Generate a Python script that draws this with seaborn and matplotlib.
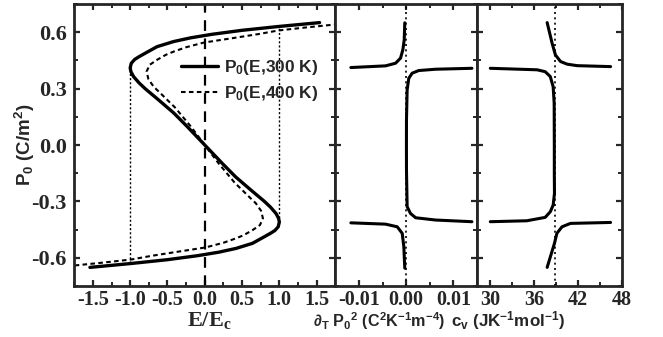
import numpy as np
import pandas as pd
import matplotlib
matplotlib.use("Agg")
import matplotlib.pyplot as plt
import seaborn as sns

# ---------------- data ----------------
# P0(E, 300 K): polarisation (C/m^2) and reduced field E/Ec
p300 = [-0.651, -0.63, -0.61, -0.589, -0.57, -0.55, -0.523, -0.49, -0.47, -0.455,
        -0.435, -0.41, -0.39, -0.364, -0.33, -0.30, -0.24, -0.17, -0.10, 0.0,
        0.10, 0.17, 0.24, 0.30, 0.33, 0.364, 0.39, 0.41, 0.435, 0.455, 0.47,
        0.49, 0.523, 0.55, 0.57, 0.589, 0.61, 0.63, 0.651]
e300 = [-1.54, -0.98, -0.50, -0.10, 0.19, 0.42, 0.64, 0.79, 0.88, 0.94,
        0.985, 1.00, 0.99, 0.955, 0.88, 0.80, 0.62, 0.415, 0.24, 0.0,
        -0.24, -0.415, -0.62, -0.80, -0.88, -0.955, -0.99, -1.00, -0.985, -0.94, -0.88,
        -0.79, -0.64, -0.42, -0.19, 0.10, 0.50, 0.98, 1.54]

# P0(E, 400 K)
p400 = [-0.645, -0.639, -0.625, -0.609, -0.59, -0.57, -0.545, -0.52, -0.497, -0.48,
        -0.453, -0.426, -0.39, -0.35, -0.31, -0.27, -0.20, -0.10, 0.0,
        0.10, 0.20, 0.27, 0.31, 0.35, 0.39, 0.426, 0.453, 0.48, 0.497,
        0.52, 0.545, 0.57, 0.59, 0.609, 0.625, 0.639, 0.645]
e400 = [-1.85, -1.70, -1.35, -0.984, -0.72, -0.40, 0.01, 0.25, 0.416, 0.52,
        0.64, 0.74, 0.78, 0.755, 0.685, 0.58, 0.40, 0.19, 0.0,
        -0.19, -0.40, -0.58, -0.685, -0.755, -0.78, -0.74, -0.64, -0.52, -0.416,
        -0.25, -0.01, 0.40, 0.72, 0.984, 1.35, 1.70, 1.85]

# thin dotted guide lines at the coercive fields
guide_e = [-1.0, 1.0]
guide_lo = [-0.625, -0.41]
guide_hi = [0.41, 0.625]

# dT P0^2 (C^2 K^-1 m^-4) versus P0, three branches
d_up_x = [-0.0117, -0.00436, -0.00225, -0.0012, -0.00071, -0.00042, -0.0003]
d_up_p = [0.412, 0.421, 0.435, 0.462, 0.506, 0.559, 0.650]
d_mid_x = [0.0139, 0.00617, 0.00265, 0.00126, 0.00055, 0.0002, 0.00006, 0.00005,
           0.00006, 0.0002, 0.0009, 0.002, 0.00617, 0.0139]
d_mid_p = [0.408, 0.403, 0.396, 0.382, 0.355, 0.293, 0.133, 0.0,
           -0.133, -0.328, -0.364, -0.387, -0.399, -0.408]
d_lo_x = [-0.0117, -0.00436, -0.0019, -0.00084, -0.0005, -0.0003]
d_lo_p = [-0.414, -0.421, -0.435, -0.47, -0.541, -0.655]

# c_v (J K^-1 mol^-1) versus P0, three branches
c_up_x = [46.44, 41.88, 40.5, 39.6, 38.9, 38.45, 37.77]
c_up_p = [0.417, 0.422, 0.43, 0.444, 0.479, 0.541, 0.651]
c_mid_x = [30.0, 36.4, 37.5, 38.2, 38.59, 38.73, 38.75, 38.75, 38.77, 38.59,
           38.2, 37.5, 35.0, 30.0]
c_mid_p = [0.408, 0.40, 0.39, 0.364, 0.31, 0.222, 0.0, -0.15, -0.257, -0.32,
           -0.355, -0.385, -0.403, -0.408]
c_lo_x = [46.44, 40.96, 39.8, 39.1, 38.77, 37.77]
c_lo_p = [-0.412, -0.417, -0.435, -0.47, -0.523, -0.651]
cv_ref = 38.8

# ---------------- style ----------------
sns.set_theme(style="ticks")
plt.rcParams.update({
    "font.family": ["Liberation Serif", "DejaVu Serif"],
    "font.weight": "bold",
    "mathtext.default": "regular",
    "axes.unicode_minus": False,
    "axes.linewidth": 2.0,
    "xtick.direction": "in",
    "ytick.direction": "in",
    "xtick.top": True,
    "ytick.right": True,
    "xtick.major.width": 1.6,
    "ytick.major.width": 1.6,
    "xtick.minor.width": 1.4,
    "ytick.minor.width": 1.4,
    "xtick.major.size": 4,
    "ytick.major.size": 4,
    "xtick.minor.size": 3,
    "ytick.minor.size": 3,
})

W, H = 663, 337
fig = plt.figure(figsize=(W / 100, H / 100), dpi=100)
gs = fig.add_gridspec(1, 3, width_ratios=[262, 142, 145],
                      left=73.5 / W, right=622 / W,
                      bottom=1 - 286 / H, top=1 - 4 / H, wspace=0)
ax1 = fig.add_subplot(gs[0])
ax2 = fig.add_subplot(gs[1], sharey=ax1)
ax3 = fig.add_subplot(gs[2], sharey=ax1)

sans = ["Liberation Sans", "DejaVu Sans"]
serif = ["Liberation Serif", "DejaVu Serif"]

# ---- left panel ----
df300 = pd.DataFrame({"E": e300, "P": p300})
df400 = pd.DataFrame({"E": e400, "P": p400})
sns.lineplot(data=df300, x="E", y="P", sort=False, estimator=None, ax=ax1,
             color="black", lw=2.4, label="P$_0$(E,300 K)")
sns.lineplot(data=df400, x="E", y="P", sort=False, estimator=None, ax=ax1,
             color="black", lw=1.5, linestyle=(0, (2.2, 1.6)),
             label="P$_0$(E,400 K)")
ax1.axvline(0.0, color="black", lw=1.6, linestyle=(0, (4.8, 3.4)), zorder=1)
ax1.vlines(guide_e, guide_lo, guide_hi, colors="black", lw=1.0,
           linestyles=(0, (1.5, 1.5)), zorder=1)
ax1.set_xlim(-1.76, 1.75)
ax1.set_ylim(-0.75, 0.75)
ax1.set_xticks([-1.5, -1.0, -0.5, 0.0, 0.5, 1.0, 1.5])
ax1.set_xticks(np.arange(-1.75, 1.76, 0.25), minor=True)
ax1.set_yticks([-0.6, -0.3, 0.0, 0.3, 0.6])
ax1.set_yticks(np.arange(-0.75, 0.76, 0.15), minor=True)
ax1.set_xticklabels(["-1.5", "-1.0", "-0.5", "0.0", "0.5", "1.0", "1.5"])
ax1.set_yticklabels(["-0.6", "-0.3", "0.0", "0.3", "0.6"])
ax1.set_xlabel("E/E$_c$", fontsize=16, family=serif, fontweight="bold")
ax1.set_ylabel("P$_0$ (C/m$^2$)", fontsize=13.5, family=sans,
               fontweight="bold")
leg = ax1.legend(loc="upper right", bbox_to_anchor=(0.935, 0.81),
                 frameon=False, borderpad=0, borderaxespad=0,
                 handlelength=2.1, handletextpad=0.35, labelspacing=0.42,
                 prop={"family": sans, "weight": "bold", "size": 12.5})

# ---- middle panel ----
for xs, ps in [(d_up_x, d_up_p), (d_mid_x, d_mid_p), (d_lo_x, d_lo_p)]:
    sns.lineplot(x=xs, y=ps, sort=False, estimator=None, ax=ax2,
                 color="black", lw=2.2)
ax2.axvline(0.0, color="black", lw=1.2, linestyle=(0, (1.2, 2.0)), zorder=1)
ax2.set_xlim(-0.015, 0.015)
ax2.set_xticks([-0.01, 0.0, 0.01])
ax2.set_xticks([-0.015, -0.005, 0.005, 0.015], minor=True)
ax2.set_xticklabels(["-0.01", "0.00", "0.01"])

# ---- right panel ----
for xs, ps in [(c_up_x, c_up_p), (c_mid_x, c_mid_p), (c_lo_x, c_lo_p)]:
    sns.lineplot(x=xs, y=ps, sort=False, estimator=None, ax=ax3,
                 color="black", lw=2.2)
ax3.axvline(cv_ref, color="black", lw=1.2, linestyle=(0, (1.2, 2.0)), zorder=1)
ax3.set_xlim(28.2, 48)
ax3.set_xticks([30, 36, 42, 48])
ax3.set_xticks([33, 39, 45], minor=True)
ax3.set_xticklabels(["30", "36", "42", "48"])

for ax in (ax1, ax2, ax3):
    ax.tick_params(which="both", top=True, right=True, direction="in")
    ax.tick_params(axis="x", which="major", labelsize=14.5, pad=3)
    ax.tick_params(axis="y", which="major", labelsize=16, pad=5)
    for lab in ax.get_xticklabels() + ax.get_yticklabels():
        lab.set_fontweight("bold")
        lab.set_family(serif)
    for sp in ax.spines.values():
        sp.set_linewidth(2.0)
        sp.set_visible(True)
for ax in (ax2, ax3):
    ax.tick_params(axis="y", labelleft=False)
    ax.set_ylabel("")
    ax.set_xlabel("")

# x labels of the two right panels (placed like in the reference),
# font size fitted to the width they take in the reference
renderer = fig.canvas.get_renderer()
for cx, target, s in [(379, 132, "∂$_T$ P$_0$$^2$ (C$^2$K$^{-1}$m$^{-4}$)"),
                      (508, 114, "c$_v$ (JK$^{-1}$mol$^{-1}$)")]:
    t = fig.text(cx / W, 1 - 321 / H, s, ha="center", va="center",
                 fontsize=12.5, family=sans, fontweight="bold")
    w = t.get_window_extent(renderer).width
    t.set_fontsize(12.5 * target / w)

ax1.xaxis.set_label_coords(0.52, -0.085)
ax1.yaxis.set_label_coords(-0.14, 0.5)

fig.savefig("out.png", dpi=100)
